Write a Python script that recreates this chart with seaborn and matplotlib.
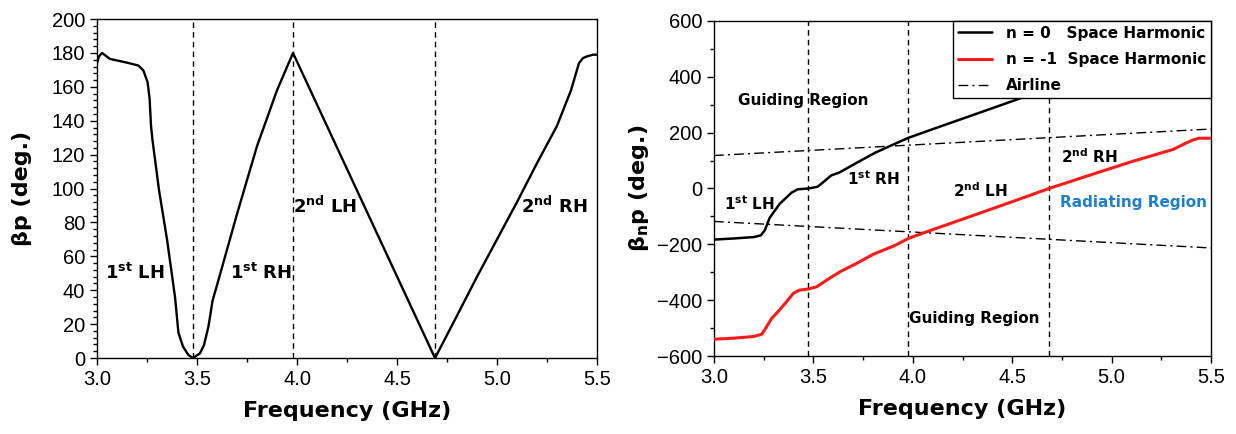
import matplotlib
matplotlib.use("Agg")
import matplotlib.pyplot as plt
import seaborn as sns
from matplotlib.ticker import MultipleLocator

# ---- Left panel: folded phase shift per unit cell ----
freq_bp = [3.00, 3.01, 3.025, 3.065, 3.15, 3.207, 3.232, 3.253, 3.263, 3.27,
           3.277, 3.31, 3.35, 3.39, 3.407, 3.43, 3.457, 3.48, 3.515, 3.535,
           3.557, 3.578, 3.60, 3.70, 3.80, 3.90, 3.98, 4.69, 4.80, 4.90,
           5.00, 5.10, 5.20, 5.30, 5.37, 5.40, 5.41, 5.43, 5.45, 5.48, 5.50]
bp_deg = [174, 178, 180, 176.5, 174.3, 172.6, 169.6, 162.7, 152.9, 137,
          129, 99, 70, 36, 15, 6.7, 1.8, 0, 2.8, 7.7,
          18.5, 34, 43, 85, 125, 158, 180, 0, 25, 48,
          70, 92, 115, 137, 158, 170, 174, 177, 178, 179, 179]
bounds_left = [3.48, 3.98, 4.69]

# ---- Right panel: space harmonics n = 0 and n = -1 ----
freq_n0 = [3.00, 3.10, 3.20, 3.235, 3.255, 3.28, 3.33, 3.39, 3.42, 3.475,
           3.52, 3.545, 3.59, 3.63, 3.71, 3.81, 3.91, 3.98, 4.11, 4.31,
           4.505, 4.685, 5.00, 5.31, 5.41, 5.44, 5.50]
beta_n0 = [-183, -179, -174, -168, -150, -105, -55, -15, -3, 0,
           6, 20, 47, 57, 89, 128, 160, 182, 215, 265,
           314, 360, 429, 498, 534, 540, 540]

freq_n1 = [3.00, 3.10, 3.20, 3.24, 3.256, 3.29, 3.33, 3.40, 3.43, 3.475,
           3.517, 3.567, 3.634, 3.718, 3.80, 3.91, 3.98, 4.11, 4.31, 4.505,
           4.685, 4.90, 5.10, 5.31, 5.375, 5.41, 5.44, 5.50]
beta_n1 = [-540, -536, -530, -522, -505, -465, -435, -375, -364, -360,
           -352, -328, -298, -268, -236, -204, -178, -145, -95, -46,
           0, 50, 96, 140, 163, 174, 180, 180]

freq_air = [3.0, 5.5]
air_upper = [118, 213]
air_lower = [-118, -213]
bounds_right = [3.475, 3.976, 4.683]

sns.set_style("ticks")
plt.rcParams['font.family'] = ['Liberation Sans', 'DejaVu Sans']
plt.rcParams['mathtext.fontset'] = 'dejavusans'
plt.rcParams['text.color'] = 'black'
plt.rcParams['axes.labelcolor'] = 'black'
plt.rcParams['xtick.color'] = 'black'
plt.rcParams['ytick.color'] = 'black'

BOLD = dict(family='DejaVu Sans', weight='bold', color='black')

fig = plt.figure(figsize=(12.36, 4.34), dpi=100)
fig.patch.set_facecolor('white')
ax1 = fig.add_axes([0.0785, 0.175, 0.4045, 0.781])
ax2 = fig.add_axes([0.5777, 0.1797, 0.4021, 0.772])

for ax in (ax1, ax2):
    ax.set_facecolor('white')
    for sp in ax.spines.values():
        sp.set_visible(True)
        sp.set_color('black')
        sp.set_linewidth(1.0)
    ax.tick_params(which='both', direction='out', top=False, right=False,
                   labelsize=14.5, colors='black', labelcolor='black', width=1)
    ax.tick_params(which='major', length=5)
    ax.tick_params(which='minor', length=3)
    ax.set_xlim(3.0, 5.5)
    ax.xaxis.set_major_locator(MultipleLocator(0.5))
    ax.xaxis.set_minor_locator(MultipleLocator(0.25))
    ax.set_xlabel('Frequency (GHz)', fontsize=16, labelpad=9, **BOLD)

# Left panel
for b in bounds_left:
    ax1.axvline(b, color='black', lw=1.0, linestyle=(0, (4, 3)), zorder=1)
sns.lineplot(x=freq_bp, y=bp_deg, ax=ax1, color='black', lw=1.7, zorder=3)
ax1.set_ylim(0, 200)
ax1.yaxis.set_major_locator(MultipleLocator(20))
ax1.yaxis.set_minor_locator(MultipleLocator(4))
ax1.set_ylabel('βp (deg.)', fontsize=16, labelpad=14, **BOLD)

lbl = dict(fontsize=13, ha='center', va='center', **BOLD)
ax1.text(3.19, 50, r'1$^\mathbf{st}$ LH', **lbl)
ax1.text(3.82, 50, r'1$^\mathbf{st}$ RH', **lbl)
ax1.text(4.14, 89.5, r'2$^\mathbf{nd}$ LH', **lbl)
ax1.text(5.285, 89.5, r'2$^\mathbf{nd}$ RH', **lbl)

# Right panel
for b in bounds_right:
    ax2.axvline(b, color='black', lw=1.0, linestyle=(0, (4, 3)), zorder=1)
airline_ls = (0, (7, 3, 1.5, 3))
sns.lineplot(x=freq_n0, y=beta_n0, ax=ax2, color='black', lw=1.8,
             label='n = 0   Space Harmonic', zorder=3)
sns.lineplot(x=freq_n1, y=beta_n1, ax=ax2, color='#ff1a1a', lw=2.2,
             label='n = -1  Space Harmonic', zorder=3)
sns.lineplot(x=freq_air, y=air_upper, ax=ax2, color='black', lw=1.0,
             linestyle=airline_ls, label='Airline', zorder=2)
sns.lineplot(x=freq_air, y=air_lower, ax=ax2, color='black', lw=1.0,
             linestyle=airline_ls, zorder=2)
ax2.set_ylim(-600, 600)
ax2.yaxis.set_major_locator(MultipleLocator(200))
ax2.yaxis.set_minor_locator(MultipleLocator(100))
ax2.set_ylabel(r'β$_\mathbf{n}$p (deg.)', fontsize=16, labelpad=4, **BOLD)

lbl2 = dict(fontsize=11, ha='center', va='center', family='DejaVu Sans',
            weight='bold')
ax2.text(3.45, 315, 'Guiding Region', color='black', **lbl2)
ax2.text(3.80, 36, r'1$^\mathbf{st}$ RH', color='black', **lbl2)
ax2.text(3.18, -56, r'1$^\mathbf{st}$ LH', color='black', **lbl2)
ax2.text(4.34, -6, r'2$^\mathbf{nd}$ LH', color='black', **lbl2)
ax2.text(4.89, 113, r'2$^\mathbf{nd}$ RH', color='black', **lbl2)
ax2.text(5.11, -50, 'Radiating Region', color='#1f7fcf', **lbl2)
ax2.text(4.31, -467, 'Guiding Region', color='black', **lbl2)

leg = ax2.legend(loc='upper right', borderaxespad=0, frameon=True,
                 fancybox=False, edgecolor='black', framealpha=1,
                 prop=dict(weight='bold', size=11, family='DejaVu Sans'),
                 handlelength=2.2, labelspacing=0.75, handletextpad=0.95,
                 borderpad=0.3)
leg.get_frame().set_linewidth(1.0)
for t in leg.get_texts():
    t.set_color('black')
leg.set_zorder(5)

fig.savefig('out.png', dpi=100, facecolor='white')
